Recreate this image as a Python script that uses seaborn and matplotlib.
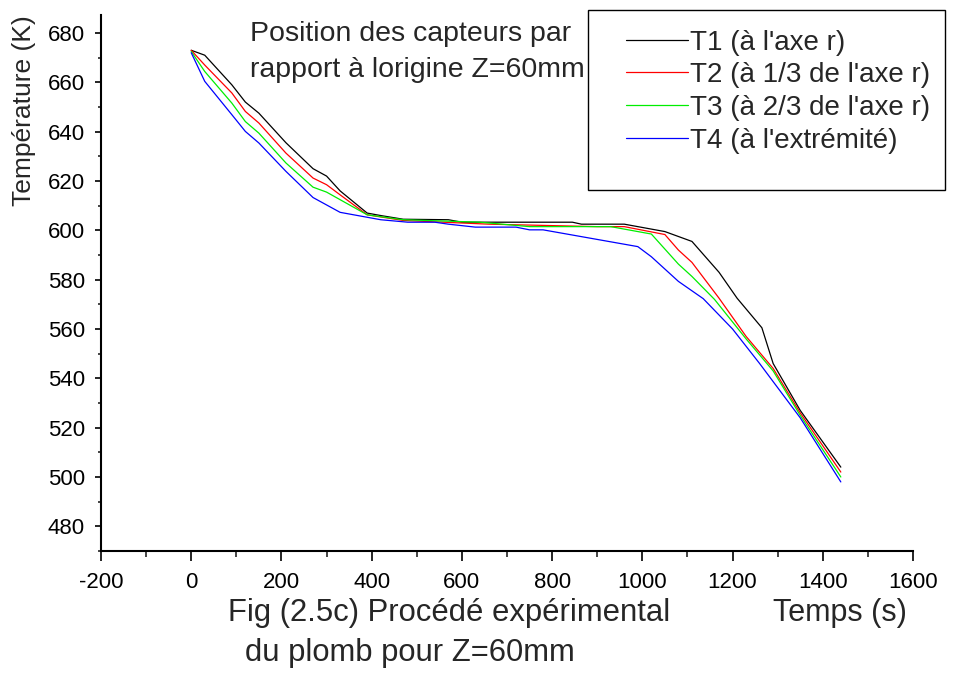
import numpy as np
import pandas as pd
import seaborn as sns
import matplotlib
matplotlib.use("Agg")
import matplotlib.pyplot as plt
from matplotlib.patches import Rectangle
from matplotlib.ticker import MultipleLocator

# ---- data ----
t1 = [0, 30, 90, 120, 150, 210, 270, 300, 330, 390, 420, 470, 570, 600, 845, 865, 960, 1050, 1110, 1170, 1210, 1265, 1290, 1350, 1440]
T1 = [673, 671, 659, 652, 647.5, 635.5, 625, 622, 616, 607, 606, 604.5, 604.3, 603.3, 603.3, 602.5, 602.5, 599.5, 595.5, 583, 572.5, 560.5, 546, 527, 504]

t2 = [0, 30, 90, 120, 150, 210, 270, 300, 330, 390, 470, 660, 900, 960, 1050, 1080, 1110, 1170, 1230, 1290, 1350, 1440]
T2 = [673, 667, 655.7, 648.2, 643.5, 631.3, 621.2, 618.5, 614.4, 606.3, 604, 602.5, 601.5, 601.5, 598.3, 592, 587, 572.5, 557, 544, 526, 502]

t3 = [0, 30, 90, 120, 150, 210, 270, 300, 390, 470, 640, 750, 930, 1020, 1080, 1110, 1160, 1230, 1290, 1350, 1440]
T3 = [672.5, 664.4, 651.6, 644.1, 639.4, 627.3, 617.5, 615.5, 606.3, 604.3, 603.3, 601.5, 601.5, 598.5, 586.3, 581.3, 572, 556, 543, 525, 500]

t4 = [0, 30, 90, 120, 150, 210, 270, 330, 420, 480, 540, 570, 630, 720, 750, 780, 990, 1020, 1080, 1135, 1200, 1260, 1350, 1440]
T4 = [672, 660.4, 646.9, 640.1, 635.4, 623.9, 613.3, 607.3, 604.3, 603.3, 603.3, 602.5, 601.3, 601.3, 600.2, 600.2, 593.4, 589.3, 579.3, 572.3, 560, 546, 524, 498]

labels = ["T1 (à l'axe r)", "T2 (à 1/3 de l'axe r)", "T3 (à 2/3 de l'axe r)", "T4 (à l'extrémité)"]
colors = ["#000000", "#ff0000", "#00ee00", "#0000ff"]

frames = []
for t, v, lab in zip([t1, t2, t3, t4], [T1, T2, T3, T4], labels):
    frames.append(pd.DataFrame({"Temps": t, "Temp": v, "serie": lab}))
df = pd.concat(frames, ignore_index=True)

sns.set_style("white")
plt.rcParams["font.family"] = ["Liberation Sans", "DejaVu Sans"]
plt.rcParams["axes.unicode_minus"] = False

W, H = 970, 677
fig = plt.figure(figsize=(W / 100, H / 100), dpi=100)
L, R, B, TOP = 101, 913, 551, 15
ax = fig.add_axes([L / W, 1 - B / H, (R - L) / W, (B - TOP) / H])

sns.lineplot(data=df, x="Temps", y="Temp", hue="serie", palette=dict(zip(labels, colors)),
             sort=False, estimator=None, ax=ax, linewidth=0.9, legend=False)

ax.set_xlim(-200, 1600)
ax.set_ylim(470, 687.3)
ax.xaxis.set_major_locator(MultipleLocator(200))
ax.xaxis.set_minor_locator(MultipleLocator(100))
ax.yaxis.set_major_locator(MultipleLocator(20))
ax.yaxis.set_minor_locator(MultipleLocator(10))
ax.set_yticks(np.arange(480, 681, 20))
ax.set_xlabel("")
ax.set_ylabel("")
for s in ["top", "right"]:
    ax.spines[s].set_visible(False)
for s in ["left", "bottom"]:
    ax.spines[s].set_linewidth(1.5)
    ax.spines[s].set_color("black")
ax.tick_params(axis="x", which="major", direction="out", length=7, width=1.2, labelsize=16, pad=8, colors="black", bottom=True)
ax.tick_params(axis="x", which="minor", direction="out", length=4, width=1.2, bottom=True)
ax.tick_params(axis="y", which="major", direction="out", length=4.5, width=1.2, labelsize=16, pad=7, colors="black", left=True)
ax.tick_params(axis="y", which="minor", direction="out", length=2.5, width=1.2, left=True)
ax.grid(False)

# legend
handles = [plt.Line2D([], [], color=c, lw=0.9) for c in colors]
fig.legend(handles, labels, loc="upper left", bbox_to_anchor=(626 / W, 1 - 29.5 / H),
           frameon=False, fontsize=20, handlelength=2.23, handletextpad=0.07,
           labelspacing=0.24, borderpad=0, borderaxespad=0)
fig.add_artist(Rectangle((588 / W, 1 - 190 / H), (945 - 588) / W, 180 / H,
                         transform=fig.transFigure, fill=False, lw=1.0, ec="black"))

# texts
fig.text(250 / W, 1 - 41 / H, "Position des capteurs par", fontsize=20.5, va="baseline", ha="left")
fig.text(250 / W, 1 - 77 / H, "rapport à lorigine Z=60mm", fontsize=20.5, va="baseline", ha="left")
fig.text(24 / W, 1 - 111 / H, "Température (K)", fontsize=19, rotation=90, va="center", ha="center")
fig.text(228 / W, 1 - 621 / H, "Fig (2.5c) Procédé expérimental", fontsize=22.3, va="baseline", ha="left")
fig.text(245 / W, 1 - 661 / H, "du plomb pour Z=60mm", fontsize=22.3, va="baseline", ha="left")
fig.text(773 / W, 1 - 621 / H, "Temps (s)", fontsize=22, va="baseline", ha="left")

fig.savefig("out.png", dpi=100)
